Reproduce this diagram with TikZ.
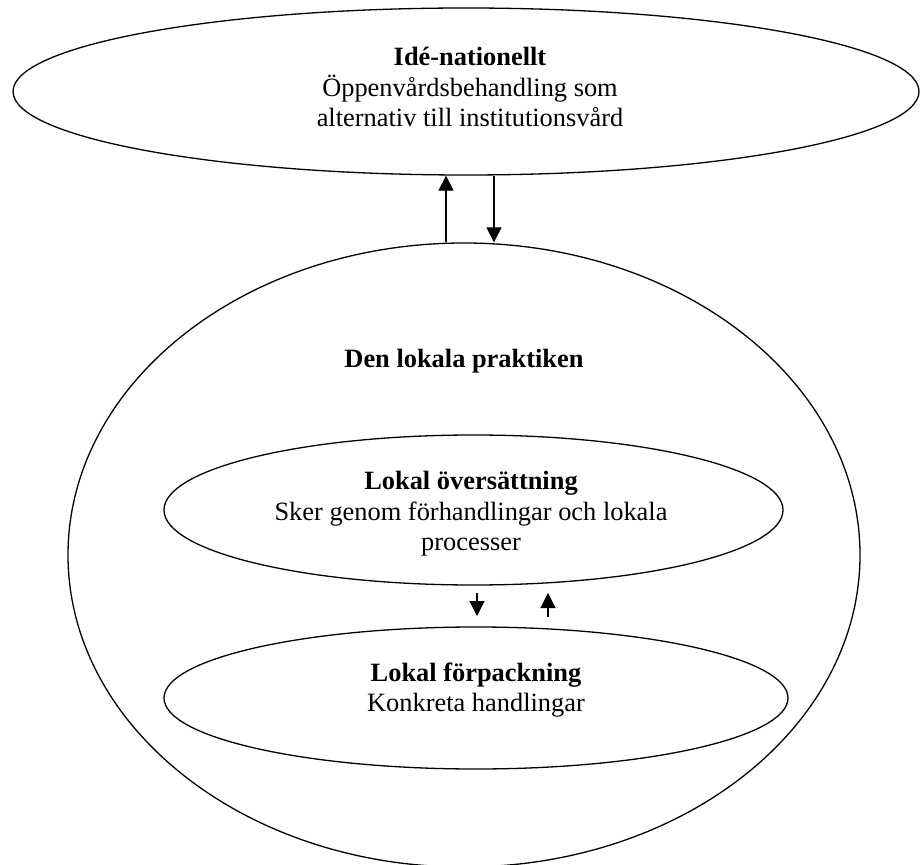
\documentclass[tikz,border=0pt]{standalone}
\usepackage{fontspec}
\setmainfont{Liberation Serif}
\usetikzlibrary{shapes.geometric,arrows.meta}
\tikzset{
  oval/.style={draw, ellipse, line width=0.65pt, inner sep=0pt},
  txt/.style={align=center, inner sep=0pt, font=\fontsize{13.2}{15.2}\selectfont},
  arr/.style={line width=0.6pt, -{Triangle[width=7.5pt,length=7.5pt]}}
}
\begin{document}
\begin{tikzpicture}[x=0.5pt,y=-0.5pt]
\useasboundingbox (0,0) rectangle (920,865);
% ellipses
\node[oval, minimum width=453pt, minimum height=83.5pt] (top) at (466,91.5) {};
\node[oval, minimum width=396pt, minimum height=312pt] (big) at (464,555) {};
\node[oval, minimum width=309.5pt, minimum height=75pt] (in1) at (473.5,510) {};
\node[oval, minimum width=312pt, minimum height=71pt] (in2) at (476,698) {};
% texts
\node[txt] (ttop) at (470,87) {\textbf{Idé-nationellt}\\Öppenvårdsbehandling som\\alternativ till institutionsvård};
\node[txt] (tbig) at (464,361) {\textbf{Den lokala praktiken}};
\node[txt] (tin1) at (471,514) {\textbf{Lokal översättning}\\Sker genom förhandlingar och lokala\\processer};
\node[txt] (tin2) at (476,690) {\textbf{Lokal förpackning}\\Konkreta handlingar};
% large arrows
\coordinate (ua) at (446,0);
\coordinate (da) at (494,0);
\draw[arr] (big.north -| ua) -- (top.south -| ua);
\draw[arr] (top.south -| da) -- (big.north -| da);
% small arrows
\coordinate (d1) at (477,593);
\coordinate (d2) at (477,616);
\coordinate (u1) at (548,617);
\coordinate (u2) at (548,593);
\draw[arr] (d1) -- (d2);
\draw[arr] (u1) -- (u2);
\end{tikzpicture}
\end{document}
